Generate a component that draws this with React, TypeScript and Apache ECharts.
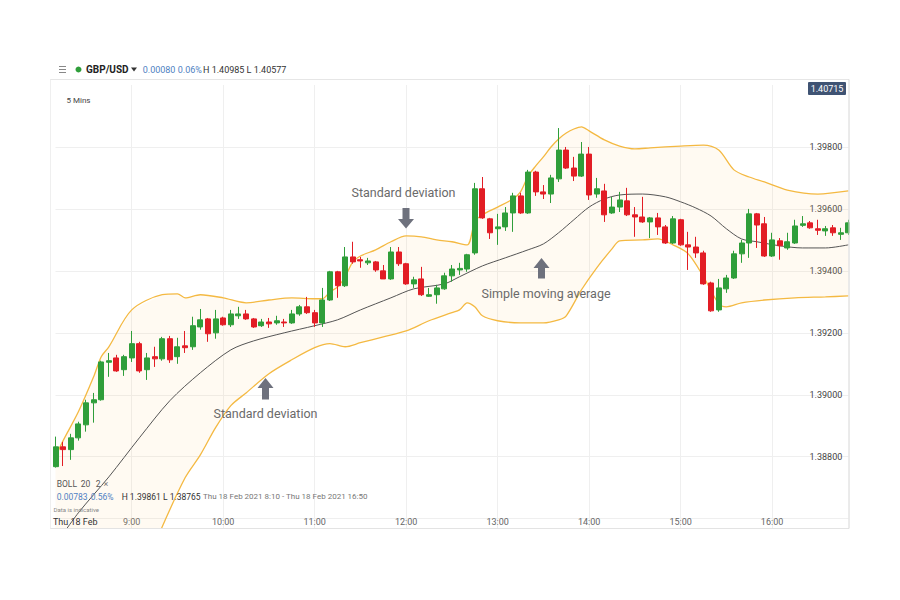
import React, { useEffect, useRef } from "react";
import * as echarts from "echarts";

// ---------- DATA ----------
const categories: string[] = [
  "8:10", "8:15", "8:20", "8:25", "8:30", "8:35", "8:40", "8:45", "8:50", "8:55",
  "9:00", "9:05", "9:10", "9:15", "9:20", "9:25", "9:30", "9:35", "9:40", "9:45", "9:50", "9:55",
  "10:00", "10:05", "10:10", "10:15", "10:20", "10:25", "10:30", "10:35", "10:40", "10:45", "10:50", "10:55",
  "11:00", "11:05", "11:10", "11:15", "11:20", "11:25", "11:30", "11:35", "11:40", "11:45", "11:50", "11:55",
  "12:00", "12:05", "12:10", "12:15", "12:20", "12:25", "12:30", "12:35", "12:40", "12:45", "12:50", "12:55",
  "13:00", "13:05", "13:10", "13:15", "13:20", "13:25", "13:30", "13:35", "13:40", "13:45", "13:50", "13:55",
  "14:00", "14:05", "14:10", "14:15", "14:20", "14:25", "14:30", "14:35", "14:40", "14:45", "14:50", "14:55",
  "15:00", "15:05", "15:10", "15:15", "15:20", "15:25", "15:30", "15:35", "15:40", "15:45", "15:50", "15:55",
  "16:00", "16:05", "16:10", "16:15", "16:20", "16:25", "16:30", "16:35", "16:40", "16:45", "16:50",
];

// [open, close, low, high]
const ohlc: number[][] = [
  [1.38768, 1.38832, 1.38765, 1.38865], [1.38832, 1.38823, 1.38770, 1.38848], [1.38823, 1.38861, 1.38790, 1.38874],
  [1.38861, 1.38906, 1.38852, 1.38913], [1.38903, 1.38974, 1.38881, 1.38984], [1.38974, 1.38984, 1.38910, 1.39006],
  [1.38984, 1.39106, 1.38981, 1.39110], [1.39105, 1.39110, 1.39058, 1.39135], [1.39119, 1.39077, 1.39074, 1.39129],
  [1.39081, 1.39123, 1.39061, 1.39129], [1.39119, 1.39165, 1.39106, 1.39206], [1.39165, 1.39077, 1.39071, 1.39171],
  [1.39081, 1.39119, 1.39048, 1.39135], [1.39123, 1.39116, 1.39090, 1.39155], [1.39116, 1.39181, 1.39110, 1.39187],
  [1.39181, 1.39113, 1.39103, 1.39190], [1.39123, 1.39155, 1.39100, 1.39184], [1.39158, 1.39152, 1.39135, 1.39206],
  [1.39155, 1.39223, 1.39145, 1.39252], [1.39219, 1.39242, 1.39210, 1.39277], [1.39245, 1.39197, 1.39171, 1.39248],
  [1.39200, 1.39245, 1.39181, 1.39274], [1.39248, 1.39226, 1.39223, 1.39252], [1.39226, 1.39261, 1.39219, 1.39274],
  [1.39255, 1.39261, 1.39245, 1.39284], [1.39261, 1.39245, 1.39242, 1.39274], [1.39245, 1.39219, 1.39216, 1.39248],
  [1.39223, 1.39235, 1.39219, 1.39245], [1.39235, 1.39229, 1.39216, 1.39248], [1.39232, 1.39239, 1.39226, 1.39255],
  [1.39235, 1.39232, 1.39219, 1.39245], [1.39232, 1.39261, 1.39229, 1.39274], [1.39261, 1.39284, 1.39255, 1.39290],
  [1.39284, 1.39265, 1.39261, 1.39316], [1.39265, 1.39232, 1.39219, 1.39274], [1.39232, 1.39306, 1.39219, 1.39345],
  [1.39306, 1.39397, 1.39303, 1.39400], [1.39397, 1.39352, 1.39313, 1.39400], [1.39352, 1.39445, 1.39348, 1.39477],
  [1.39445, 1.39429, 1.39423, 1.39494], [1.39436, 1.39432, 1.39410, 1.39445], [1.39426, 1.39432, 1.39419, 1.39442],
  [1.39429, 1.39403, 1.39397, 1.39432], [1.39400, 1.39374, 1.39374, 1.39419], [1.39374, 1.39461, 1.39371, 1.39477],
  [1.39461, 1.39423, 1.39416, 1.39477], [1.39423, 1.39358, 1.39355, 1.39426], [1.39358, 1.39371, 1.39345, 1.39381],
  [1.39374, 1.39323, 1.39319, 1.39413], [1.39318, 1.39323, 1.39316, 1.39345], [1.39323, 1.39345, 1.39294, 1.39355],
  [1.39342, 1.39384, 1.39339, 1.39394], [1.39384, 1.39406, 1.39365, 1.39419], [1.39403, 1.39408, 1.39387, 1.39426],
  [1.39406, 1.39452, 1.39397, 1.39455], [1.39458, 1.39665, 1.39452, 1.39684], [1.39665, 1.39571, 1.39568, 1.39703],
  [1.39568, 1.39523, 1.39503, 1.39571], [1.39536, 1.39542, 1.39484, 1.39584], [1.39542, 1.39587, 1.39529, 1.39606],
  [1.39587, 1.39642, 1.39526, 1.39652], [1.39642, 1.39587, 1.39584, 1.39652], [1.39587, 1.39719, 1.39584, 1.39726],
  [1.39719, 1.39655, 1.39642, 1.39723], [1.39655, 1.39648, 1.39632, 1.39677], [1.39648, 1.39700, 1.39619, 1.39710],
  [1.39697, 1.39790, 1.39687, 1.39861], [1.39790, 1.39732, 1.39729, 1.39800], [1.39732, 1.39706, 1.39690, 1.39768],
  [1.39706, 1.39777, 1.39703, 1.39816], [1.39777, 1.39645, 1.39629, 1.39800], [1.39648, 1.39665, 1.39636, 1.39700],
  [1.39658, 1.39581, 1.39558, 1.39681], [1.39587, 1.39606, 1.39584, 1.39639], [1.39606, 1.39629, 1.39590, 1.39655],
  [1.39626, 1.39581, 1.39577, 1.39668], [1.39581, 1.39574, 1.39510, 1.39606], [1.39574, 1.39558, 1.39555, 1.39639],
  [1.39558, 1.39571, 1.39506, 1.39574], [1.39571, 1.39542, 1.39516, 1.39587], [1.39542, 1.39490, 1.39487, 1.39548],
  [1.39490, 1.39568, 1.39487, 1.39577], [1.39565, 1.39484, 1.39481, 1.39568], [1.39484, 1.39477, 1.39403, 1.39526],
  [1.39477, 1.39458, 1.39442, 1.39510], [1.39458, 1.39358, 1.39355, 1.39465], [1.39361, 1.39271, 1.39268, 1.39365],
  [1.39274, 1.39345, 1.39268, 1.39374], [1.39342, 1.39377, 1.39329, 1.39387], [1.39377, 1.39455, 1.39374, 1.39465],
  [1.39455, 1.39490, 1.39426, 1.39500], [1.39490, 1.39584, 1.39442, 1.39600], [1.39584, 1.39548, 1.39474, 1.39587],
  [1.39552, 1.39448, 1.39445, 1.39574], [1.39448, 1.39500, 1.39445, 1.39523], [1.39497, 1.39481, 1.39436, 1.39506],
  [1.39474, 1.39494, 1.39468, 1.39523], [1.39490, 1.39545, 1.39487, 1.39565], [1.39547, 1.39552, 1.39542, 1.39577],
  [1.39555, 1.39539, 1.39536, 1.39561], [1.39536, 1.39531, 1.39516, 1.39565], [1.39529, 1.39536, 1.39513, 1.39545],
  [1.39539, 1.39523, 1.39513, 1.39548], [1.39518, 1.39523, 1.39500, 1.39539], [1.39523, 1.39555, 1.39516, 1.39565],
];

// Bollinger upper band
const upperBand: [string, number][] = [
  ["8:10", 1.388], ["8:15", 1.38852], ["8:25", 1.38945], ["8:35", 1.39058], ["8:40", 1.39123], ["8:45", 1.39155],
  ["9:00", 1.39274], ["9:20", 1.39323], ["9:30", 1.39326], ["9:35", 1.39313], ["9:45", 1.39323], ["10:00", 1.39313],
  ["10:15", 1.39297], ["10:30", 1.39306], ["10:45", 1.39313], ["11:00", 1.3931], ["11:05", 1.3931], ["11:10", 1.39332],
  ["11:15", 1.39348], ["11:20", 1.39381], ["11:25", 1.39429], ["11:30", 1.39448], ["11:40", 1.39468], ["11:50", 1.39494],
  ["12:00", 1.39513], ["12:10", 1.3951], ["12:20", 1.395], ["12:30", 1.39494], ["12:40", 1.39484], ["12:45", 1.39558],
  ["12:50", 1.39581], ["13:00", 1.39606], ["13:10", 1.39632], ["13:15", 1.39655], ["13:20", 1.39706], ["13:25", 1.39739],
  ["13:30", 1.39768], ["13:35", 1.398], ["13:40", 1.39826], ["13:45", 1.39845], ["13:50", 1.39858], ["13:55", 1.39865],
  ["14:00", 1.39852], ["14:10", 1.39823], ["14:20", 1.39803], ["14:30", 1.39794], ["14:40", 1.39797], ["15:00", 1.39803],
  ["15:15", 1.39806], ["15:25", 1.3979], ["15:35", 1.39726], ["15:45", 1.39703], ["15:55", 1.39687], ["16:10", 1.39661],
  ["16:30", 1.39648], ["16:50", 1.39658],
];

// Bollinger lower band (first two points lie below the visible range)
const lowerBand: [string, number][] = [
  ["8:10", 1.37952], ["9:00", 1.38339], ["9:20", 1.38574], ["9:35", 1.38732], ["9:45", 1.38806], ["9:55", 1.38894],
  ["10:05", 1.38965], ["10:15", 1.39006], ["10:30", 1.39068], ["10:45", 1.39113], ["11:00", 1.39152], ["11:10", 1.39165],
  ["11:20", 1.39155], ["11:30", 1.39168], ["11:45", 1.39187], ["12:00", 1.39206], ["12:15", 1.39239], ["12:30", 1.39265],
  ["12:35", 1.39274], ["12:40", 1.39297], ["12:45", 1.39284], ["12:50", 1.39255], ["13:00", 1.39239], ["13:15", 1.39232],
  ["13:30", 1.39232], ["13:40", 1.39242], ["13:45", 1.39255], ["13:55", 1.39339], ["14:05", 1.3941], ["14:15", 1.39471],
  ["14:20", 1.39497], ["14:35", 1.395], ["14:45", 1.39503], ["14:55", 1.39484], ["15:05", 1.39455], ["15:15", 1.39381],
  ["15:25", 1.39294], ["15:30", 1.39284], ["15:40", 1.39297], ["15:55", 1.39306], ["16:15", 1.39313], ["16:35", 1.39316],
  ["16:50", 1.39319],
];

// 20-period simple moving average (first point lies below the visible range)
const smaLine: [string, number][] = [
  ["8:10", 1.38516], ["8:25", 1.38619], ["8:45", 1.38735], ["9:05", 1.38861], ["9:25", 1.38981], ["9:45", 1.39071],
  ["10:05", 1.39145], ["10:20", 1.39174], ["10:40", 1.392], ["11:00", 1.39223], ["11:15", 1.39242], ["11:30", 1.39274],
  ["11:50", 1.39313], ["12:05", 1.39342], ["12:25", 1.39358], ["12:35", 1.39381], ["12:50", 1.39416], ["13:05", 1.39442],
  ["13:20", 1.39468], ["13:30", 1.39487], ["13:40", 1.39523], ["13:50", 1.39565], ["14:00", 1.39606], ["14:10", 1.39632],
  ["14:20", 1.39645], ["14:35", 1.39648], ["14:50", 1.39639], ["15:00", 1.39623], ["15:10", 1.39603], ["15:20", 1.39577],
  ["15:30", 1.39536], ["15:40", 1.39503], ["15:50", 1.39494], ["16:05", 1.39481], ["16:20", 1.39474], ["16:35", 1.39474],
  ["16:50", 1.39484],
];

const yTicks: number[] = [1.388, 1.39, 1.392, 1.394, 1.396, 1.398];

const GREEN = "#2f9e3a";
const RED = "#e21d25";
const BAND = "#f4b942";
const FONT = "Roboto, 'Open Sans', sans-serif";

const toIdx = (pts: [string, number][]) => pts.map(([t, v]) => [categories.indexOf(t), v]);

function txt(text: string, x: number, y: number, size: number, fill: string, extra: any = {}) {
  return {
    type: "text",
    x,
    y,
    z: 120,
    silent: true,
    style: {
      text,
      fill,
      fontSize: size,
      fontFamily: FONT,
      fontWeight: extra.weight || "normal",
      align: extra.align || "left",
      textAlign: extra.align || "left",
      verticalAlign: "middle",
      textVerticalAlign: "middle",
    },
  };
}

function poly(points: number[][], fill: string) {
  return { type: "polygon", z: 120, silent: true, shape: { points }, style: { fill } };
}

function hline(x1: number, y1: number, x2: number, y2: number, stroke: string) {
  return { type: "line", z: 121, silent: true, shape: { x1, y1, x2, y2 }, style: { stroke, lineWidth: 1 } };
}

export default function App() {
  const ref = useRef<HTMLDivElement>(null);

  useEffect(() => {
    if (!ref.current) return;
    const chart = echarts.init(ref.current, undefined, { renderer: "svg" });
    const up = toIdx(upperBand);
    const lo = toIdx(lowerBand);
    const isHour = (_i: number, v: string) => String(v).endsWith(":00");

    const option: any = {
      animation: false,
      backgroundColor: "#ffffff",
      grid: { left: 55.5, right: 51.7, top: 85, bottom: 72 },
      xAxis: {
        type: "category",
        data: categories,
        boundaryGap: false,
        axisLine: { show: false },
        axisTick: { show: false },
        axisLabel: {
          inside: true,
          margin: 2,
          interval: isHour,
          color: "#666",
          fontSize: 9,
          fontFamily: FONT,
        },
        splitLine: { show: true, interval: isHour, lineStyle: { color: "#efefef", width: 1 } },
      },
      yAxis: {
        type: "value",
        position: "right",
        min: 1.3857,
        max: 1.4,
        minInterval: 0.002,
        maxInterval: 0.002,
        axisLine: { show: false },
        axisTick: { show: false },
        axisLabel: {
          inside: true,
          margin: 6,
          color: "#444",
          fontSize: 9,
          fontFamily: FONT,
          formatter: (v: number) => {
            const hit = yTicks.some((t) => Math.abs(t - v) < 1e-7);
            return hit ? v.toFixed(5) : "";
          },
        },
        splitLine: { show: true, showMinLine: false, showMaxLine: false, lineStyle: { color: "#efefef", width: 1 } },
      },
      series: [
        {
          type: "custom",
          silent: true,
          clip: true,
          z: 1,
          data: [[0, 1.39]],
          renderItem: (_params: any, api: any) => {
            const a = up.map((p) => api.coord(p));
            const b = lo.map((p) => api.coord(p)).reverse();
            return {
              type: "polygon",
              shape: { points: a.concat(b) },
              style: { fill: "rgba(255, 214, 140, 0.11)" },
            };
          },
        },
        {
          type: "line",
          data: up,
          smooth: 0.3,
          symbol: "none",
          silent: true,
          z: 3,
          lineStyle: { color: BAND, width: 1.3 },
        },
        {
          type: "line",
          data: lo,
          smooth: 0.3,
          symbol: "none",
          silent: true,
          z: 3,
          lineStyle: { color: BAND, width: 1.3 },
        },
        {
          type: "line",
          data: toIdx(smaLine),
          smooth: 0.3,
          symbol: "none",
          silent: true,
          z: 3,
          lineStyle: { color: "#555", width: 1 },
        },
        {
          type: "candlestick",
          data: ohlc,
          barWidth: 5.5,
          clip: false,
          z: 5,
          itemStyle: {
            color: GREEN,
            color0: RED,
            borderColor: GREEN,
            borderColor0: RED,
            borderWidth: 1,
          },
        },
      ],
      graphic: [
        { type: "rect", z: 110, silent: true, shape: { x: 849.5, y: 78, width: 60, height: 460 }, style: { fill: "#fff" } },
        hline(50, 79.5, 849, 79.5, "#e6e6e6"),
        hline(50, 528.5, 849, 528.5, "#e3e3e3"),
        hline(50.5, 79.5, 50.5, 528.5, "#efefef"),
        hline(849, 79.5, 849, 528.5, "#d6d6d6"),
        // header
        hline(59, 66.5, 66, 66.5, "#888"),
        hline(59, 69.5, 66, 69.5, "#888"),
        hline(59, 72.5, 66, 72.5, "#888"),
        { type: "circle", z: 120, silent: true, shape: { cx: 78.5, cy: 69.5, r: 3 }, style: { fill: GREEN } },
        txt("GBP/USD", 86, 69.5, 10, "#222", { weight: "bold" }),
        poly([[131, 67.5], [137, 67.5], [134, 71.5]], "#333"),
        txt("0.00080", 142.7, 69.5, 9, "#4f7fc2"),
        txt("0.06%", 177.7, 69.5, 9, "#4f7fc2"),
        txt("H 1.40985 L 1.40577", 203, 69.5, 9, "#333"),
        txt("5 Mins", 66.5, 100, 8, "#444"),
        // price tag
        { type: "rect", z: 120, silent: true, shape: { x: 808, y: 82, width: 38, height: 13, r: 1 }, style: { fill: "#3f5373" } },
        txt("1.40715", 827, 88.5, 9, "#ffffff", { align: "center" }),
        // indicator info
        txt("BOLL", 56.7, 484, 8.5, "#555"),
        txt("20", 80.7, 484, 8.5, "#555"),
        txt("2", 95.7, 484, 8.5, "#555"),
        txt("×", 103.5, 484, 9, "#777"),
        txt("0.00783", 56.7, 496.7, 8.5, "#4f7fc2"),
        txt("0.56%", 90.7, 496.7, 8.5, "#4f7fc2"),
        txt("H 1.39861", 121.7, 496.7, 8.5, "#333"),
        txt("L 1.38765", 163, 496.7, 8.5, "#333"),
        txt("Thu 18 Feb 2021 8:10 - Thu 18 Feb 2021 16:50", 203, 496.7, 8, "#777"),
        txt("Data is indicative", 53.5, 509.5, 6, "#888"),
        txt("Thu 18 Feb", 53, 521.5, 9, "#333"),
        // annotations
        txt("Standard deviation", 403.5, 192.5, 12.5, "#6a6a6a", { align: "center" }),
        poly([[402.5, 208], [409.5, 208], [409.5, 219], [414, 219], [406, 228.5], [398, 219], [402.5, 219]], "#6e717d"),
        txt("Standard deviation", 265.5, 413, 12.5, "#6a6a6a", { align: "center" }),
        poly([[265.5, 378], [273.5, 388], [269, 388], [269, 399.5], [262, 399.5], [262, 388], [257.5, 388]], "#6e717d"),
        txt("Simple moving average", 546, 293, 12.5, "#6a6a6a", { align: "center" }),
        poly([[541.5, 258], [549.5, 268], [545, 268], [545, 278.5], [538, 278.5], [538, 268], [533.5, 268]], "#6e717d"),
      ],
    };

    chart.setOption(option);
    return () => chart.dispose();
  }, []);

  return <div ref={ref} style={{ width: 900, height: 600, position: "absolute", left: 0, top: 0 }} />;
}
